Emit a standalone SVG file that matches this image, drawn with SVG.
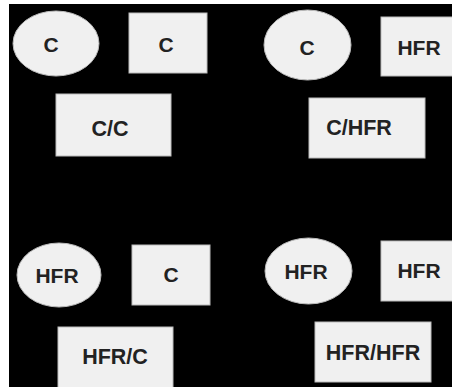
<svg xmlns="http://www.w3.org/2000/svg" width="452" height="387" viewBox="0 0 452 387">
<style>
.n{fill:#f0f0f0;stroke:#bbbbbb;stroke-width:1}
.t{font-family:"Liberation Sans",Arial,sans-serif;font-weight:bold;font-size:21px;fill:#222222;text-anchor:middle;dominant-baseline:central}
.b{font-size:21.5px}
</style>
<rect x="0" y="0" width="452" height="387" fill="#ffffff"/>
<rect x="9" y="4" width="443" height="383" fill="#000000"/>
<g id="connectors"></g>
<g id="n1"><ellipse class="n" cx="56" cy="43.5" rx="43" ry="32.5"/><text class="t" x="51" y="44">C</text></g>
<g id="n2"><rect class="n" x="129" y="13" width="78" height="60"/><text class="t" x="166" y="44">C</text></g>
<g id="n3"><rect class="n" x="56" y="94" width="115" height="62"/><text class="t b" x="110" y="129">C/C</text></g>
<g id="n4"><ellipse class="n" cx="307.5" cy="45" rx="43.5" ry="35"/><text class="t" x="307" y="47">C</text></g>
<g id="n5"><rect class="n" x="381" y="17" width="75" height="59"/><text class="t" x="419" y="47">HFR</text></g>
<g id="n6"><rect class="n" x="309" y="98" width="116" height="60"/><text class="t b" x="359" y="128">C/HFR</text></g>
<g id="n7"><ellipse class="n" cx="59" cy="275" rx="42" ry="32"/><text class="t" x="57" y="275">HFR</text></g>
<g id="n8"><rect class="n" x="132" y="245" width="78" height="60"/><text class="t" x="171" y="274">C</text></g>
<g id="n9"><rect class="n" x="58" y="327" width="115" height="65"/><text class="t b" x="115" y="357">HFR/C</text></g>
<g id="n10"><ellipse class="n" cx="308.5" cy="271" rx="43.5" ry="33"/><text class="t" x="306" y="271">HFR</text></g>
<g id="n11"><rect class="n" x="381" y="241" width="75" height="60"/><text class="t" x="419" y="270">HFR</text></g>
<g id="n12"><rect class="n" x="315" y="322" width="116" height="60"/><text class="t b" x="373" y="353">HFR/HFR</text></g>
</svg>
